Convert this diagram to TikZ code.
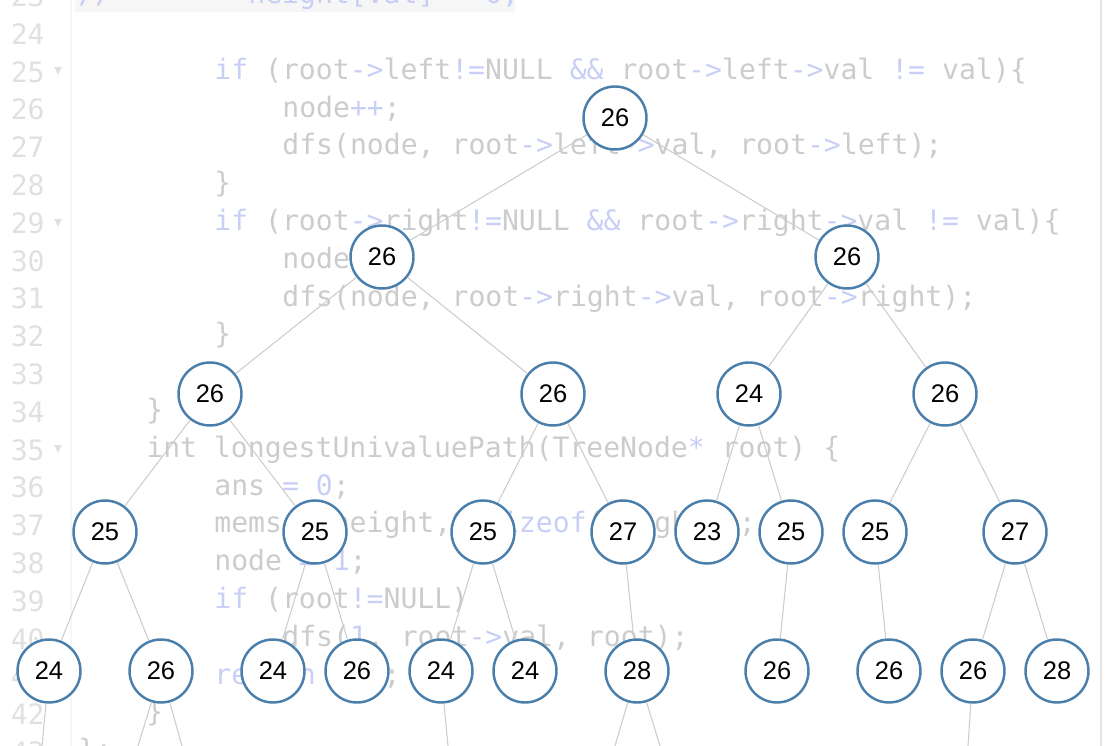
\documentclass[tikz,border=0pt]{standalone}
\usepackage{fontspec}
\setmainfont{Liberation Sans}
\newfontfamily\codefont{DejaVu Sans Mono}
\newfontfamily\symfont{DejaVu Sans}
\usetikzlibrary{positioning}

\definecolor{codegray}{RGB}{204,204,204}
\definecolor{codeblue}{RGB}{200,207,246}
\definecolor{numgray}{RGB}{224,224,224}
\definecolor{edgegray}{RGB}{204,204,204}
\definecolor{ringblue}{RGB}{74,126,171}
\definecolor{bandgray}{RGB}{246,246,246}
\definecolor{bargray}{RGB}{228,228,228}

\newcommand{\kw}[1]{\textcolor{codeblue}{#1}}

\begin{document}
\begin{tikzpicture}[
  x=0.02cm, y=-0.02cm,
  font=\codefont\fontsize{16}{18}\selectfont,
  tnode/.style={circle,draw=ringblue,fill=white,line width=1.4pt,
    minimum size=1.26cm,inner sep=0pt,font=\rmfamily\fontsize{14.5}{16}\selectfont},
  tedge/.style={draw=edgegray,line width=0.6pt},
  code/.style={anchor=west,inner sep=0pt,text height=12pt,text depth=3.5pt,text=codegray},
  lnum/.style={anchor=east,inner sep=0pt,text=numgray},
  fold/.style={inner sep=0pt,text=numgray,font=\symfont\fontsize{9}{9}\selectfont},
]
\useasboundingbox (0,0) rectangle (1106,746);
\clip (0,0) rectangle (1106,746);

% editor background
\fill[bandgray] (75,0) rectangle (515,12);
\draw[bandgray,line width=0.8pt] (71,0) -- (71,746);
\draw[bargray,line width=1.2pt] (1101,0) -- (1101,746);
\foreach \n in {23,...,43} {
  \node[lnum] (ln\n) at (45,{34+(\n-24)*37.8}) {\n};
}
\foreach \n in {25,29,35} {
  \node[fold] (fd\n) at (58,{34+(\n-24)*37.8}) {▾};
}

\node[code,text=codeblue] (c23a) at (78,-3.8) {//};
\node[code,text=codeblue] (c23b) at (248,-3.8) {height[val] = 0;};
\node[code] (c25) at (214,71.8) {\kw{if} (root\kw{->}left\kw{!=}NULL \kw{\&\&} root\kw{->}left\kw{->}val \kw{!=} val)\{};
\node[code] (c26) at (282,109.6) {node\kw{++};};
\node[code] (c27) at (282,147.4) {dfs(node, root\kw{->}left\kw{->}val, root\kw{->}left);};
\node[code] (c28) at (214,185.2) {\}};
\node[code] (c29) at (214,223) {\kw{if} (root\kw{->}right\kw{!=}NULL \kw{\&\&} root\kw{->}right\kw{->}val \kw{!=} val)\{};
\node[code] (c30) at (282,260.8) {node\kw{++};};
\node[code] (c31) at (282,298.6) {dfs(node, root\kw{->}right\kw{->}val, root\kw{->}right);};
\node[code] (c32) at (214,336.4) {\}};
\node[code] (c34) at (146,412) {\}};
\node[code] (c35) at (146,449.8) {int longestUnivaluePath(TreeNode\kw{*} root) \{};
\node[code] (c36) at (214,487.6) {ans \kw{=} \kw{0};};
\node[code] (c37) at (214,525.4) {memset(height,\kw{0},\kw{sizeof}(height));};
\node[code] (c38) at (214,563.2) {node \kw{=} \kw{1};};
\node[code] (c39) at (214,601) {\kw{if} (root\kw{!=}NULL)};
\node[code] (c40) at (282,638.8) {dfs(\kw{1}, root\kw{->}val, root);};
\node[code] (c41) at (214,676.6) {\kw{return} ans;};
\node[code] (c42) at (146,714.4) {\}};
\node[code] (c43) at (78,752.2) {\};};

% tree
\node[tnode] (r) at (615,118) {26};
\foreach \x/\v [count=\i] in {382/26,847/26} {
  \node[tnode] (a\i) at (\x,257) {\v};
}
\foreach \x/\v [count=\i] in {210/26,553/26,749/24,945/26} {
  \node[tnode] (b\i) at (\x,394) {\v};
}
\foreach \x/\v [count=\i] in {105/25,315/25,483/25,623/27,707/23,791/25,875/25,1015/27} {
  \node[tnode] (c\i) at (\x,532) {\v};
}
\foreach \x/\v [count=\i] in {49/24,161/26,273/24,357/26,441/24,525/24,637/28,777/26,889/26,973/26,1057/28} {
  \node[tnode] (d\i) at (\x,671) {\v};
}
\coordinate (e1) at (42,746);
\coordinate (e2) at (138,746);
\coordinate (e3) at (182,746);
\coordinate (e4) at (448,746);
\coordinate (e5) at (615,746);
\coordinate (e6) at (660,746);
\coordinate (e7) at (968,746);

\foreach \p/\q in {r/a1,r/a2,a1/b1,a1/b2,a2/b3,a2/b4,
  b1/c1,b1/c2,b2/c3,b2/c4,b3/c5,b3/c6,b4/c7,b4/c8,
  c1/d1,c1/d2,c2/d3,c2/d4,c3/d5,c3/d6,c4/d7,c6/d8,c7/d9,c8/d10,c8/d11,
  d1/e1,d2/e2,d2/e3,d5/e4,d7/e5,d7/e6,d10/e7} {
  \draw[tedge] (\p) -- (\q);
}
\end{tikzpicture}
\end{document}
